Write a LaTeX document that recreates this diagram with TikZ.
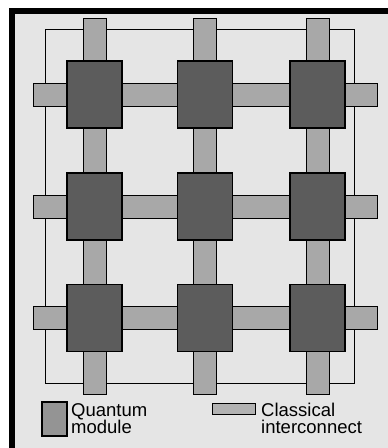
\documentclass[tikz,border=0pt]{standalone}
\usepackage{fontspec}
\setmainfont{Liberation Sans}
\usepackage{tikz}
\usetikzlibrary{positioning}
\definecolor{stipple}{gray}{0.90}
\definecolor{modgray}{gray}{0.36}
\definecolor{bargray}{gray}{0.66}
\definecolor{keygray}{gray}{0.58}
\definecolor{keylight}{gray}{0.70}

\begin{document}
\begin{tikzpicture}[x=1pt,y=-1pt,
  module/.style={draw=black,line width=1.4pt,fill=modgray,minimum width=55pt,minimum height=67pt,inner sep=0pt},
  vbar/.style={draw=black,line width=1pt,fill=bargray,minimum width=23pt,minimum height=376pt,inner sep=0pt},
  hbar/.style={draw=black,line width=1pt,fill=bargray,minimum width=344pt,minimum height=23pt,inner sep=0pt},
  lb/.style={font=\fontsize{18.5}{17}\selectfont,align=left,inner sep=0pt,anchor=north west}]
\useasboundingbox (0,0) rectangle (388,448);
\fill[white] (0,0) rectangle (388,448);
\fill[stipple] (12,11) rectangle (388,448);
\draw[line width=6pt] (12,448) -- (12,11) -- (388,11);
\node[draw=black,line width=1pt,minimum width=309pt,minimum height=354pt,inner sep=0pt] (frame) at (199.5,206) {};
% interconnect bars
\foreach \x [count=\i] in {94.5,205,317.5} {\node[vbar] (v\i) at (\x,206) {};}
\foreach \y [count=\j] in {94.5,206.5,318} {\node[hbar] (h\j) at (205,\y) {};}
% quantum modules
\foreach \x [count=\i] in {94.5,205,317.5}
  \foreach \y [count=\j] in {94.5,206.5,318}
    {\node[module] (m\i\j) at (\x,\y) {};}
% legend
\node[draw=black,line width=1.2pt,fill=keygray,minimum width=25pt,minimum height=34pt,inner sep=0pt] (qkey) at (54.5,419) {};
\node[lb] (qtext) at (71,403) {Quantum\\module};
\node[draw=black,line width=1pt,fill=keylight,minimum width=43pt,minimum height=11pt,inner sep=0pt] (ckey) at (233.5,408.5) {};
\node[lb] (ctext) at (261,403) {Classical\\interconnect};
\end{tikzpicture}
\end{document}
